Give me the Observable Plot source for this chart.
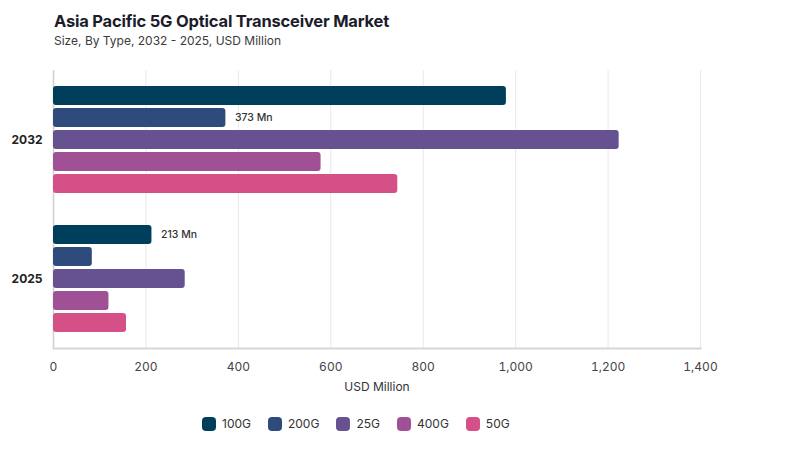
<!DOCTYPE html>
<html><head><meta charset="utf-8">
<script src="https://cdn.jsdelivr.net/npm/d3@7"></script>
<script src="https://cdn.jsdelivr.net/npm/@observablehq/plot@0.6"></script>
<style>
body{margin:0;background:#fff;font-family:Inter,"Noto Sans",sans-serif;}
#wrap{width:800px;height:450px;position:relative;}
#title{position:absolute;left:54px;top:11px;font-size:16.5px;font-weight:700;color:#1c1c2a;letter-spacing:-0.2px;}
#sub{position:absolute;left:54px;top:33px;font-size:12px;color:#3a3a3a;}
#chart{position:absolute;left:0;top:60px;}
#xlabel{position:absolute;left:277px;width:200px;text-align:center;top:379px;font-size:12px;color:#333;}
#legend{position:absolute;top:416px;left:202px;display:flex;font-size:12px;color:#333;}
.li{display:flex;align-items:center;margin-right:17px;}
.sw{width:14px;height:14px;border-radius:4px;margin-right:6px;}
</style></head>
<body><div id="wrap">
<div id="title">Asia Pacific 5G Optical Transceiver Market</div>
<div id="sub">Size, By Type, 2032 - 2025, USD Million</div>
<div id="chart"></div>
<div id="xlabel">USD Million</div>
<div id="legend"></div>
</div>
<script>
const years = ["2032", "2025"];
const types = ["100G", "200G", "25G", "400G", "50G"];
const values2032 = [980, 373, 1224, 579, 745];
const values2025 = [213, 84, 285, 120, 158];
const colors = ["#003f5c", "#2f4b7c", "#665191", "#a05195", "#d45087"];
const xTicks = [0, 200, 400, 600, 800, 1000, 1200, 1400];
const labeled = [{year: "2032", type: "200G"}, {year: "2025", type: "100G"}];

const rows = [];
years.forEach((yr, i) => {
  const vals = i === 0 ? values2032 : values2025;
  types.forEach((t, j) => rows.push({year: yr, type: t, value: vals[j]}));
});
const labelRows = rows.filter(r => labeled.some(l => l.year === r.year && l.type === r.type));
const yearRows = years.map(y => ({year: y, type: "25G"}));

const chart = Plot.plot({
  width: 800,
  height: 345,
  marginLeft: 53,
  marginRight: 100,
  marginTop: 10,
  marginBottom: 57,
  style: {fontFamily: "Inter, 'Noto Sans', sans-serif", fontSize: "12px", color: "#444"},
  x: {domain: [0, 1400], axis: null},
  y: {domain: types, axis: null, paddingInner: 0.12, paddingOuter: 0.68},
  fy: {domain: years, axis: null, paddingInner: 0, paddingOuter: 0},
  color: {domain: types, range: colors},
  marks: [
    Plot.gridX(xTicks, {stroke: "#e8e8e8", strokeOpacity: 1, strokeWidth: 1}),
    Plot.ruleX([0], {stroke: "#cfcfcf", strokeWidth: 1.5}),
    Plot.frame({anchor: "bottom", stroke: "#d6d6d6", strokeWidth: 2, fy: ["2025"]}),
    Plot.barX(rows, {x: "value", y: "type", fy: "year", fill: "type", rx: 3}),
    Plot.text(labelRows, {x: "value", y: "type", fy: "year", text: d => d.value + " Mn", textAnchor: "start", dx: 9, fontSize: 10.5, fontWeight: 500, fill: "#333"}),
    Plot.text(yearRows, {x: 0, y: "type", fy: "year", text: "year", textAnchor: "end", dx: -11, fontSize: 12, fontWeight: 700, fill: "#222"}),
    Plot.axisX({ticks: xTicks, tickSize: 0, tickPadding: 14, tickFormat: d3.format(","), fontSize: 12, fill: "#444", label: null})
  ]
});
document.getElementById("chart").appendChild(chart);

const lg = document.getElementById("legend");
types.forEach((t, i) => {
  const d = document.createElement("div"); d.className = "li";
  d.innerHTML = `<span class="sw" style="background:${colors[i]}"></span><span>${t}</span>`;
  lg.appendChild(d);
});
</script>
</body></html>
